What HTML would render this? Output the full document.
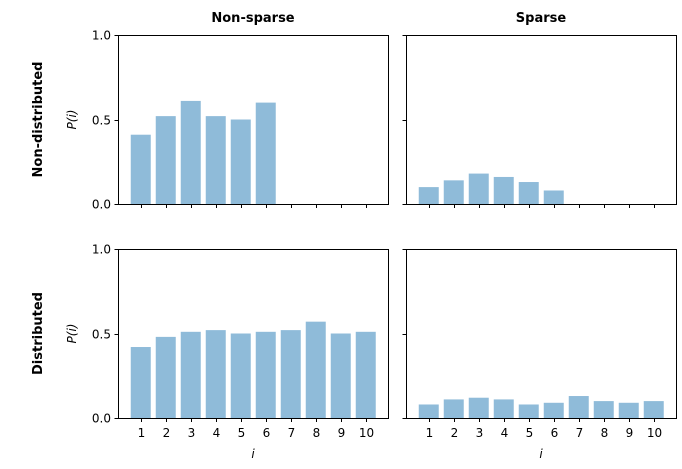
<!DOCTYPE html>
<html><head><meta charset="utf-8"><style>
body{margin:0;background:#fff;}
svg text{font-family:"DejaVu Sans","Liberation Sans",sans-serif;}
</style></head><body>
<svg id="chart" width="682" height="464" viewBox="0 0 682 464" xmlns="http://www.w3.org/2000/svg"></svg>
<script>
const categories=[1,2,3,4,5,6,7,8,9,10];
const nonDistNonSparse=[0.41,0.52,0.61,0.52,0.50,0.60];
const nonDistSparse=[0.10,0.14,0.18,0.16,0.13,0.08];
const distNonSparse=[0.42,0.48,0.51,0.52,0.50,0.51,0.52,0.57,0.50,0.51];
const distSparse=[0.08,0.11,0.12,0.11,0.08,0.09,0.13,0.10,0.09,0.10];
const yTicks=[0,0.5,1.0];
const yTickLabels=["0.0","0.5","1.0"];
const colTitles=["Non-sparse","Sparse"];
const rowTitles=["Non-distributed","Distributed"];

const svg=document.getElementById('chart');
const NS='http://www.w3.org/2000/svg';
function mk(tag,attrs,text){const e=document.createElementNS(NS,tag);for(const k in attrs)e.setAttribute(k,attrs[k]);if(text!==undefined)e.textContent=text;svg.appendChild(e);return e;}

const panels=[
 {x0:118,y0:35,vals:nonDistNonSparse,yl:true,xl:false,name:'non-distributed-non-sparse'},
 {x0:406,y0:35,vals:nonDistSparse,yl:false,xl:false,name:'non-distributed-sparse'},
 {x0:118,y0:249,vals:distNonSparse,yl:true,xl:true,name:'distributed-non-sparse'},
 {x0:406,y0:249,vals:distSparse,yl:false,xl:true,name:'distributed-sparse'}
];
const W=270,H=169,xmin=0.09,xmax=10.89;
panels.forEach(p=>{
 const xs=v=>p.x0+(v-xmin)/(xmax-xmin)*W;
 const ys=v=>p.y0+H-v*H;
 p.vals.forEach((v,i)=>{
  const c=categories[i];
  const r=mk('rect',{x:xs(c-0.4),y:ys(v),width:xs(c+0.4)-xs(c-0.4),height:ys(0)-ys(v),fill:'#8fbbd9'});
  
  
 });
 const f=mk('rect',{x:p.x0+0.5,y:p.y0+0.5,width:W,height:H,fill:'none',stroke:'#000','stroke-width':1});
 
 
 categories.forEach(c=>{
  const x=Math.round(xs(c))+0.5;
  mk('line',{x1:x,x2:x,y1:p.y0+H+0.5,y2:p.y0+H+4,stroke:'#000'});
  if(p.xl){const t=mk('text',{x:x,y:p.y0+H+19,'font-size':12,'text-anchor':'middle'},String(c));
   }
 });
 yTicks.forEach((v,i)=>{
  const y=Math.round(ys(v))+0.5;
  mk('line',{x1:p.x0-3.5,x2:p.x0+0.5,y1:y,y2:y,stroke:'#000'});
  if(p.yl){const t=mk('text',{x:p.x0-7,y:y+4,'font-size':12,'text-anchor':'end'},yTickLabels[i]);
   }
 });
 if(p.yl){const t=mk('text',{transform:`translate(${p.x0-42},${p.y0+H/2}) rotate(-90)`,'font-size':12,'text-anchor':'middle','font-style':'italic'},'P(i)');
  }
 if(p.xl){const t=mk('text',{x:p.x0+W/2,y:p.y0+H+40,'font-size':12,'text-anchor':'middle','font-style':'italic'},'i');
  }
});
colTitles.forEach((s,i)=>{const t=mk('text',{x:[118,406][i]+W/2,y:22,'font-size':13,'font-weight':'bold','text-anchor':'middle'},s);
 });
rowTitles.forEach((s,i)=>{const t=mk('text',{transform:`translate(42,${[35,249][i]+H/2}) rotate(-90)`,'font-size':13,'font-weight':'bold','text-anchor':'middle'},s);
 });
</script>
</body></html>
